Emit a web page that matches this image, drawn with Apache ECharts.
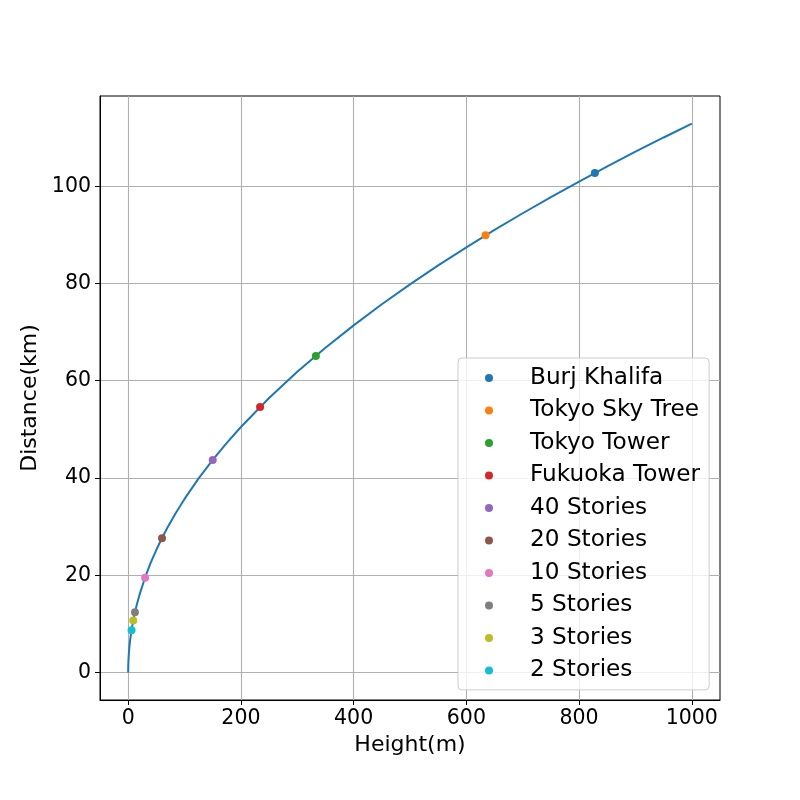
<!DOCTYPE html>
<html>
<head>
<meta charset="utf-8">
<title>Horizon distance</title>
<script src="https://cdn.jsdelivr.net/npm/echarts@6/dist/echarts.min.js"></script>
<style>
  html, body { margin: 0; padding: 0; background: #fff; }
  #chart { width: 800px; height: 800px; }
</style>
</head>
<body>
<div id="chart"></div>
<script>
  // curve: height (m) -> distance to horizon (km)
  var curveHeight = [0, 0.05, 0.25, 0.5, 1, 2, 3, 4, 5, 7, 10, 15, 20, 30, 40, 50, 60, 70, 85, 100,
    125, 150, 175, 200, 250, 300, 350, 400, 450, 500, 550, 600, 650, 700, 750, 800, 850, 900, 950, 1000];
  var curveDist = [0, 0.8, 1.78, 2.52, 3.57, 5.05, 6.18, 7.14, 7.98, 9.44, 11.29, 13.83, 15.96, 19.55, 22.58, 25.24, 27.65, 29.87, 32.91, 35.70,
    39.91, 43.72, 47.22, 50.48, 56.44, 61.83, 66.78, 71.39, 75.72, 79.82, 83.71, 87.44, 91.01, 94.44, 97.76, 100.96, 104.07, 107.09, 110.02, 112.88];

  // buildings
  var names = ['Burj Khalifa', 'Tokyo Sky Tree', 'Tokyo Tower', 'Fukuoka Tower', '40 Stories',
    '20 Stories', '10 Stories', '5 Stories', '3 Stories', '2 Stories'];
  var heights = [828, 634, 333, 234, 150, 60, 30, 12, 9, 6];
  var distances = [102.7, 89.9, 65.1, 54.6, 43.7, 27.6, 19.5, 12.4, 10.7, 8.7];
  var colors = ['#1f77b4', '#ff7f0e', '#2ca02c', '#d62728', '#9467bd',
    '#8c564b', '#e377c2', '#7f7f7f', '#bcbd22', '#17becf'];

  var xTicks = [0, 200, 400, 600, 800, 1000];
  var yTicks = [0, 20, 40, 60, 80, 100];

  var font = 'DejaVu Sans';
  var chart = echarts.init(document.getElementById('chart'));

  var series = [{
    name: 'curve',
    type: 'line',
    data: curveHeight.map(function (h, i) { return [h, curveDist[i]]; }),
    showSymbol: false,
    symbol: 'none',
    lineStyle: {color: '#1f77b4', width: 2},
    z: 2,
    animation: false
  }];
  for (var i = 0; i < names.length; i++) {
    series.push({
      name: names[i],
      type: 'scatter',
      data: [[heights[i], distances[i]]],
      symbol: 'circle',
      symbolSize: 8,
      itemStyle: {color: colors[i], opacity: 1},
      z: 3,
      animation: false
    });
  }

  chart.setOption({
    backgroundColor: '#fff',
    animation: false,
    textStyle: {fontFamily: font},
    grid: {
      left: 100, top: 96, width: 620, height: 604,
      show: true, borderColor: '#000', borderWidth: 1, backgroundColor: 'transparent'
    },
    legend: {
      data: names,
      orient: 'vertical',
      left: 458,
      top: 358,
      itemWidth: 8,
      itemHeight: 8,
      itemGap: 9.5,
      padding: [8.4, 9, 8, 27],
      backgroundColor: 'rgba(255,255,255,0.8)',
      borderColor: '#cccccc',
      borderWidth: 1,
      borderRadius: 4,
      selectedMode: false,
      textStyle: {fontFamily: font, fontSize: 23.2, color: '#000', padding: [0, 0, 0, 32]}
    },
    xAxis: {
      type: 'value',
      min: -50,
      max: 1050,
      name: 'Height(m)',
      nameLocation: 'middle',
      nameGap: 28,
      nameTextStyle: {fontFamily: font, fontSize: 22, color: '#000'},
      axisLine: {show: true, onZero: false, lineStyle: {color: '#000', width: 1}},
      axisTick: {show: true, inside: false, length: 5, customValues: xTicks, lineStyle: {color: '#000', width: 1}},
      axisLabel: {
        customValues: xTicks, margin: 8, fontFamily: font, fontSize: 20.5, color: '#000',
        formatter: function (v) { return String(v); }
      },
      splitLine: {show: true, lineStyle: {color: '#b0b0b0', width: 1.1}}
    },
    yAxis: {
      type: 'value',
      min: -5.65,
      max: 118.55,
      name: 'Distance(km)',
      nameLocation: 'middle',
      nameGap: 53,
      nameTextStyle: {fontFamily: font, fontSize: 22, color: '#000'},
      axisLine: {show: true, onZero: false, lineStyle: {color: '#000', width: 1}},
      axisTick: {show: true, inside: false, length: 5, customValues: yTicks, lineStyle: {color: '#000', width: 1}},
      axisLabel: {
        customValues: yTicks, margin: 9, fontFamily: font, fontSize: 20.5, color: '#000',
        formatter: function (v) { return String(v); }
      },
      splitLine: {show: true, lineStyle: {color: '#b0b0b0', width: 1.1}}
    },
    series: series
  });
</script>
</body>
</html>
